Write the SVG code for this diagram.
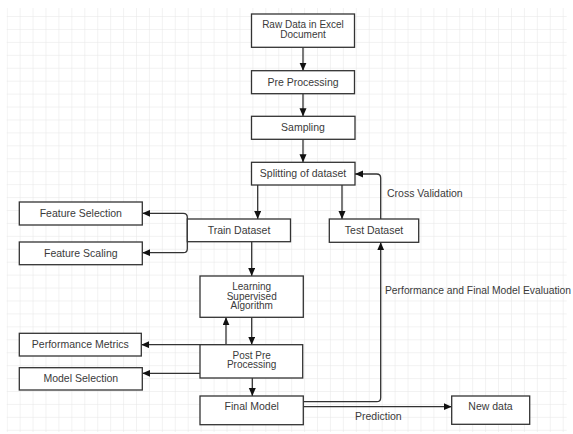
<svg xmlns="http://www.w3.org/2000/svg" width="573" height="434" viewBox="0 0 573 434">
<style>
.box{fill:#fff;stroke:#333;stroke-width:1.3}
.t{font-family:"Liberation Sans",Arial,sans-serif;font-size:10.5px;fill:#3a3a3a;text-anchor:middle;dominant-baseline:central}
.m{font-size:10px}
.l{font-family:"Liberation Sans",Arial,sans-serif;font-size:10.5px;fill:#3a3a3a;dominant-baseline:central}
.c{fill:none;stroke:#333;stroke-width:1.3}
</style>
<defs>
<pattern id="grid" x="6.7" y="3.1" width="12.93" height="12.93" patternUnits="userSpaceOnUse">
<path d="M0,0 H12.93 M0,0 V12.93" fill="none" stroke="#e6e6e6" stroke-width="1"/>
</pattern>
<marker id="ah" markerUnits="userSpaceOnUse" markerWidth="9" markerHeight="8" refX="8" refY="3.5" orient="auto">
<path d="M0,0 L8,3.5 L0,7 z" fill="#111"/>
</marker>
</defs>
<rect x="0" y="0" width="573" height="434" fill="#fff"/>
<rect x="6.7" y="8" width="560" height="424" fill="url(#grid)"/>

<g id="connectors">
<path class="c" d="M303,47.3 V70.7" marker-end="url(#ah)"/>
<path class="c" d="M303,93.7 V116.3" marker-end="url(#ah)"/>
<path class="c" d="M303,139.3 V162.3" marker-end="url(#ah)"/>
<path class="c" d="M257.7,185 V219" marker-end="url(#ah)"/>
<path class="c" d="M342,185 V219" marker-end="url(#ah)"/>
<path class="c" d="M380.7,219 V178 Q380.7,174 376.7,174 H355" marker-end="url(#ah)"/>
<path class="c" d="M187.3,232 V217.3 Q187.3,213.3 183.3,213.3 H142.3" marker-end="url(#ah)"/>
<path class="c" d="M187.3,232 V248.7 Q187.3,252.7 183.3,252.7 H142.3" marker-end="url(#ah)"/>
<path class="c" d="M251.7,241.7 V276" marker-end="url(#ah)"/>
<path class="c" d="M226,344.7 V317.3" marker-end="url(#ah)"/>
<path class="c" d="M251.7,317.3 V344.7" marker-end="url(#ah)"/>
<path class="c" d="M226,344.7 H141.3" marker-end="url(#ah)"/>
<path class="c" d="M200,373.3 H142.3" marker-end="url(#ah)"/>
<path class="c" d="M252.3,378 V396" marker-end="url(#ah)"/>
<path class="c" d="M303.3,401.7 H376.7 Q380.7,401.7 380.7,397.7 V242.3" marker-end="url(#ah)"/>
<path class="c" d="M303.3,406.7 H451.7" marker-end="url(#ah)"/>
<text class="l" x="387" y="192.7">Cross Validation</text>
<text class="l" x="385" y="290.5" style="font-size:10.3px">Performance and Final Model Evaluation</text>
<text class="l" x="355" y="416">Prediction</text>
</g>

<g id="raw"><rect class="box" x="251.5" y="14" width="103" height="33.3"/>
<text class="t m" x="303" y="24.5">Raw Data in Excel</text><text class="t m" x="303" y="34.3">Document</text></g>
<g id="pre"><rect class="box" x="251.5" y="70.7" width="103" height="23"/>
<text class="t" x="303" y="81.7">Pre Processing</text></g>
<g id="sampling"><rect class="box" x="251.5" y="116.3" width="103.5" height="23"/>
<text class="t" x="303" y="127.3">Sampling</text></g>
<g id="splitting"><rect class="box" x="251.5" y="162.3" width="103.5" height="22.7"/>
<text class="t" x="303" y="173">Splitting of dataset</text></g>
<g id="featsel"><rect class="box" x="19.3" y="202" width="123" height="23"/>
<text class="t" x="80.8" y="213">Feature Selection</text></g>
<g id="train"><rect class="box" x="187.3" y="219" width="103.2" height="22.7"/>
<text class="t" x="239" y="230">Train Dataset</text></g>
<g id="test"><rect class="box" x="329.3" y="219" width="89.4" height="23.3"/>
<text class="t" x="374" y="229.7">Test Dataset</text></g>
<g id="featscale"><rect class="box" x="19.3" y="242" width="123" height="22.7"/>
<text class="t" x="80.8" y="252.7">Feature Scaling</text></g>
<g id="learning"><rect class="box" x="200" y="276" width="103.3" height="41.3"/>
<text class="t m" x="251.7" y="286.3">Learning</text><text class="t m" x="251.7" y="296">Supervised</text><text class="t m" x="251.7" y="305.5">Algorithm</text></g>
<g id="perfmetrics"><rect class="box" x="19.3" y="333.3" width="122" height="22.7"/>
<text class="t" x="80.3" y="343.7">Performance Metrics</text></g>
<g id="post"><rect class="box" x="200" y="344.7" width="102.7" height="33.3"/>
<text class="t m" x="251.7" y="355">Post Pre</text><text class="t m" x="251.7" y="364.7">Processing</text></g>
<g id="modelsel"><rect class="box" x="19.3" y="367.7" width="123" height="22.3"/>
<text class="t" x="80.8" y="378">Model Selection</text></g>
<g id="final"><rect class="box" x="200" y="396" width="103.3" height="28.7"/>
<text class="t" x="251.7" y="406.3">Final Model</text></g>
<g id="newdata"><rect class="box" x="451.7" y="396" width="78" height="28.3"/>
<text class="t" x="490.5" y="406">New data</text></g>
</svg>
